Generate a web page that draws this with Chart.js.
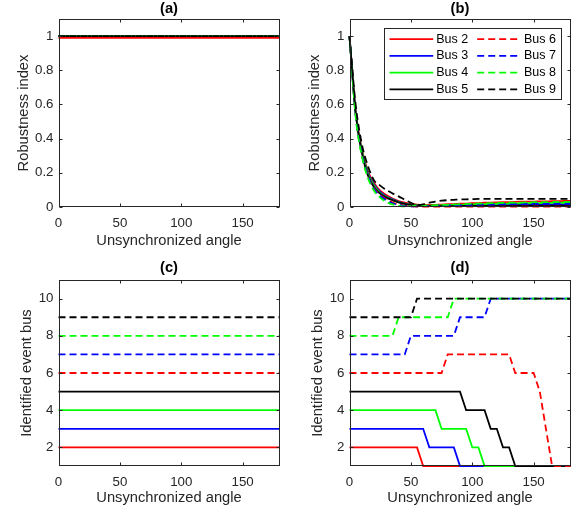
<!DOCTYPE html>
<html>
<head>
<meta charset="utf-8">
<script src="https://cdn.jsdelivr.net/npm/chart.js@4.4.1/dist/chart.umd.min.js"></script>
<style>
  body { margin: 0; background: #fff; }
  #wrap { position: relative; width: 582px; height: 512px; }
  canvas { position: absolute; }
</style>
</head>
<body>
<div id="wrap">
  <canvas id="chartA" width="291" height="256" style="left:0;top:0"></canvas>
  <canvas id="chartB" width="291" height="256" style="left:291px;top:0"></canvas>
  <canvas id="chartC" width="291" height="256" style="left:0;top:256px"></canvas>
  <canvas id="chartD" width="291" height="256" style="left:291px;top:256px"></canvas>
</div>
<script>
const fontFamily = "'Liberation Sans', Arial, Helvetica, sans-serif";
const axisColor = '#262626';

const busNames = ['Bus 2', 'Bus 3', 'Bus 4', 'Bus 5', 'Bus 6', 'Bus 7', 'Bus 8', 'Bus 9'];
const busColors = ['#ff0000', '#0000ff', '#00ff00', '#000000', '#ff0000', '#0000ff', '#00ff00', '#000000'];
const busDashed = [false, false, false, false, true, true, true, true];

const angles = [0, 5, 10, 15, 20, 25, 30, 35, 40, 45, 50, 55, 60, 65, 70, 75, 80, 85, 90, 95,
  100, 105, 110, 115, 120, 125, 130, 135, 140, 145, 150, 155, 160, 165, 170, 175, 180];
const angleRange = [0, 180];

const xTicks = [0, 50, 100, 150];
const robustTicks = [0, 0.2, 0.4, 0.6, 0.8, 1];
const busTicks = [2, 4, 6, 8, 10];

// (a) robustness index, flat over the whole angle range
const robustA = [0.99, 1, 1, 1, 1, 1, 1, 1];

// (b) robustness index vs unsynchronized angle
const robustB2 = [1, 0.56, 0.34, 0.21, 0.14, 0.095, 0.07, 0.05, 0.035, 0.025,
  0.018, 0.014, 0.012, 0.012, 0.013, 0.014, 0.016, 0.017, 0.019, 0.02,
  0.022, 0.023, 0.025, 0.026, 0.027, 0.028, 0.029, 0.03, 0.031, 0.032,
  0.032, 0.033, 0.033, 0.034, 0.034, 0.035, 0.035];
const robustB3 = [1, 0.55, 0.33, 0.2, 0.13, 0.088, 0.062, 0.045, 0.03, 0.02,
  0.013, 0.008, 0.006, 0.006, 0.006, 0.007, 0.007, 0.008, 0.008, 0.009,
  0.009, 0.01, 0.01, 0.011, 0.011, 0.012, 0.012, 0.013, 0.013, 0.013,
  0.014, 0.014, 0.014, 0.015, 0.015, 0.015, 0.015];
const robustB4 = [1, 0.55, 0.33, 0.195, 0.125, 0.083, 0.058, 0.042, 0.028, 0.018,
  0.012, 0.009, 0.008, 0.008, 0.009, 0.01, 0.011, 0.012, 0.013, 0.014,
  0.015, 0.016, 0.017, 0.018, 0.019, 0.02, 0.02, 0.021, 0.022, 0.022,
  0.023, 0.023, 0.024, 0.024, 0.025, 0.025, 0.025];
const robustB5 = [1, 0.55, 0.32, 0.185, 0.115, 0.078, 0.055, 0.04, 0.027, 0.018,
  0.012, 0.008, 0.006, 0.005, 0.005, 0.005, 0.005, 0.005, 0.006, 0.006,
  0.006, 0.006, 0.007, 0.007, 0.007, 0.007, 0.007, 0.008, 0.008, 0.008,
  0.008, 0.008, 0.008, 0.008, 0.008, 0.008, 0.008];
const robustB6 = [1, 0.54, 0.31, 0.18, 0.11, 0.07, 0.045, 0.028, 0.015, 0.008,
  0.004, 0.003, 0.002, 0.002, 0.002, 0.002, 0.002, 0.002, 0.002, 0.002,
  0.002, 0.002, 0.002, 0.002, 0.002, 0.002, 0.002, 0.002, 0.002, 0.002,
  0.002, 0.002, 0.002, 0.002, 0.002, 0.002, 0.002];
const robustB7 = [1, 0.54, 0.31, 0.18, 0.105, 0.065, 0.04, 0.022, 0.012, 0.006,
  0.004, 0.004, 0.005, 0.006, 0.007, 0.008, 0.009, 0.01, 0.011, 0.012,
  0.012, 0.013, 0.014, 0.014, 0.015, 0.016, 0.016, 0.017, 0.017, 0.018,
  0.018, 0.019, 0.019, 0.019, 0.02, 0.02, 0.02];
const robustB8 = [1, 0.53, 0.3, 0.17, 0.095, 0.055, 0.03, 0.015, 0.007, 0.004,
  0.005, 0.006, 0.007, 0.009, 0.01, 0.012, 0.013, 0.015, 0.016, 0.017,
  0.019, 0.02, 0.021, 0.022, 0.023, 0.024, 0.025, 0.026, 0.026, 0.027,
  0.028, 0.028, 0.029, 0.029, 0.03, 0.03, 0.03];
const robustB9 = [1, 0.6, 0.37, 0.24, 0.155, 0.125, 0.1, 0.08, 0.062, 0.043,
  0.025, 0.012, 0.016, 0.025, 0.032, 0.037, 0.04, 0.042, 0.044, 0.045,
  0.046, 0.047, 0.047, 0.048, 0.048, 0.048, 0.048, 0.048, 0.048, 0.048,
  0.048, 0.048, 0.048, 0.048, 0.048, 0.048, 0.048];

// (c) identified event bus, flat
const eventBusC = [2, 3, 4, 5, 6, 7, 8, 9];

// (d) identified event bus vs unsynchronized angle
const eventD2 = [2, 2, 2, 2, 2, 2, 2, 2, 2, 2, 2, 2, 1, 1, 1, 1, 1, 1, 1, 1,
  1, 1, 1, 1, 1, 1, 1, 1, 1, 1, 1, 1, 1, 1, 1, 1, 1];
const eventD3 = [3, 3, 3, 3, 3, 3, 3, 3, 3, 3, 3, 3, 3, 2, 2, 2, 2, 2, 1, 1,
  1, 1, 1, 1, 1, 1, 1, 1, 1, 1, 1, 1, 1, 1, 1, 1, 1];
const eventD4 = [4, 4, 4, 4, 4, 4, 4, 4, 4, 4, 4, 4, 4, 4, 4, 3, 3, 3, 3, 3,
  2, 2, 1, 1, 1, 1, 1, 1, 1, 1, 1, 1, 1, 1, 1, 1, 1];
const eventD5 = [5, 5, 5, 5, 5, 5, 5, 5, 5, 5, 5, 5, 5, 5, 5, 5, 5, 5, 5, 4,
  4, 4, 4, 3, 3, 2, 2, 1, 1, 1, 1, 1, 1, 1, 1, 1, 1];
const eventD6 = [6, 6, 6, 6, 6, 6, 6, 6, 6, 6, 6, 6, 6, 6, 6, 6, 7, 7, 7, 7,
  7, 7, 7, 7, 7, 7, 7, 6, 6, 6, 6, 5, 3, 1, 1, 1, 1];
const eventD7 = [7, 7, 7, 7, 7, 7, 7, 7, 7, 7, 8, 8, 8, 8, 8, 8, 8, 8, 9, 9,
  9, 9, 9, 10, 10, 10, 10, 10, 10, 10, 10, 10, 10, 10, 10, 10, 10];
const eventD8 = [8, 8, 8, 8, 8, 8, 8, 8, 9, 9, 9, 9, 9, 9, 9, 9, 9, 10, 10, 10,
  10, 10, 10, 10, 10, 10, 10, 10, 10, 10, 10, 10, 10, 10, 10, 10, 10];
const eventD9 = [9, 9, 9, 9, 9, 9, 9, 9, 9, 9, 9, 10, 10, 10, 10, 10, 10, 10, 10, 10,
  10, 10, 10, 10, 10, 10, 10, 10, 10, 10, 10, 10, 10, 10, 10, 10, 10];

// box around the axes with inward ticks on all four sides (matlab look)
const boxTicks = {
  id: 'boxTicks',
  afterDatasetsDraw(chart) {
    const {ctx, chartArea: a, scales: {x, y}} = chart;
    const L = Math.round(a.left) + 0.5, R = Math.round(a.right) - 0.5;
    const T = Math.round(a.top) + 0.5, B = Math.round(a.bottom) - 0.5;
    ctx.save();
    ctx.strokeStyle = axisColor;
    ctx.lineWidth = 1;
    ctx.beginPath();
    x.ticks.forEach(t => {
      const px = Math.round(x.getPixelForValue(t.value)) + 0.5;
      ctx.moveTo(px, B); ctx.lineTo(px, B - 3);
      ctx.moveTo(px, T); ctx.lineTo(px, T + 3);
    });
    y.ticks.forEach(t => {
      const py = Math.round(y.getPixelForValue(t.value)) + 0.5;
      ctx.moveTo(L, py); ctx.lineTo(L + 3, py);
      ctx.moveTo(R, py); ctx.lineTo(R - 3, py);
    });
    ctx.stroke();
    ctx.strokeRect(L, T, R - L, B - T);
    ctx.restore();
  }
};

// two-column legend inside the top right corner of (b)
const busLegend = {
  id: 'busLegend',
  afterDraw(chart) {
    const {ctx, chartArea: a} = chart;
    const w = 177, h = 71;
    const bx = Math.round(a.right - 9.5 - w) + 0.5;
    const by = Math.round(a.top + 9) + 0.5;
    ctx.save();
    ctx.fillStyle = '#fff';
    ctx.fillRect(bx, by, w, h);
    ctx.strokeStyle = axisColor;
    ctx.lineWidth = 1;
    ctx.strokeRect(bx, by, w, h);
    ctx.font = '12.5px ' + fontFamily;
    ctx.textBaseline = 'middle';
    chart.data.datasets.forEach((ds, i) => {
      const col = Math.floor(i / 4), row = i % 4;
      const cx = bx + (col ? 92.7 : 5);
      const cy = by + 10.7 + row * 16.7;
      ctx.strokeStyle = ds.borderColor;
      ctx.lineWidth = ds.borderWidth;
      ctx.setLineDash(ds.borderDash);
      ctx.beginPath();
      ctx.moveTo(cx, cy);
      ctx.lineTo(cx + 43.7, cy);
      ctx.stroke();
      ctx.setLineDash([]);
      ctx.fillStyle = '#000';
      ctx.fillText(ds.label, cx + 46.7, cy);
    });
    ctx.restore();
  }
};

function makeChart(id, o) {
  return new Chart(document.getElementById(id), {
    type: 'line',
    data: {
      datasets: o.series.map((vals, i) => ({
        label: busNames[i],
        data: o.xs.map((xv, k) => ({x: xv, y: vals[k]})),
        borderColor: busColors[i],
        borderWidth: 1.8,
        borderDash: busDashed[i] ? [7, 4] : [],
        pointRadius: 0,
        tension: o.smooth ? 0.4 : 0,
        cubicInterpolationMode: o.smooth ? 'monotone' : 'default',
        fill: false,
        clip: 2,
        order: 8 - i
      }))
    },
    options: {
      responsive: false,
      animation: false,
      devicePixelRatio: 1,
      layout: {padding: {left: 0, right: 11.5, top: o.padTop, bottom: 0}},
      plugins: {
        legend: {display: false},
        tooltip: {enabled: false},
        title: {
          display: true,
          text: o.title,
          fullSize: false,
          color: '#000',
          font: {family: fontFamily, size: 14.7, weight: 'bold'},
          padding: {top: 0, bottom: o.titleGap}
        }
      },
      scales: {
        x: {
          type: 'linear',
          min: 0,
          max: 180,
          grid: {display: false, drawTicks: false},
          border: {display: false},
          afterBuildTicks: s => { s.ticks = xTicks.map(v => ({value: v})); },
          afterFit: s => { s.height = o.xHeight; },
          ticks: {color: axisColor, font: {family: fontFamily, size: 13.3}, padding: 8, maxRotation: 0,
            callback: v => String(v)},
          title: {
            display: true,
            text: 'Unsynchronized angle',
            color: axisColor,
            font: {family: fontFamily, size: 14.7},
            padding: {top: 0, bottom: o.xTitlePad}
          }
        },
        y: {
          min: o.yMin,
          max: o.yMax,
          grid: {display: false, drawTicks: false},
          border: {display: false},
          afterBuildTicks: s => { s.ticks = o.yTicks.map(v => ({value: v})); },
          afterFit: s => { s.width = 58.5; },
          ticks: {color: axisColor, font: {family: fontFamily, size: 13.3}, padding: 5,
            callback: v => String(v)},
          title: {
            display: true,
            text: o.yLabel,
            color: axisColor,
            font: {family: fontFamily, size: 14.7},
            padding: {top: o.yTitlePad, bottom: 0}
          }
        }
      }
    },
    plugins: [boxTicks].concat(o.extra || [])
  });
}

const topRow = {padTop: 0.4, titleGap: 1, xHeight: 49, xTitlePad: 6, yTitlePad: 15.5,
  yMin: 0, yMax: 1.1, yTicks: robustTicks, yLabel: 'Robustness index'};
const bottomRow = {padTop: 2.9, titleGap: 3.5, xHeight: 46, xTitlePad: 5.5, yTitlePad: 18,
  yMin: 1, yMax: 11, yTicks: busTicks, yLabel: 'Identified event bus'};

makeChart('chartA', Object.assign({}, topRow, {
  title: '(a)', xs: angleRange, series: robustA.map(v => [v, v])
}));
makeChart('chartB', Object.assign({}, topRow, {
  title: '(b)', xs: angles, smooth: true, extra: [busLegend],
  series: [robustB2, robustB3, robustB4, robustB5, robustB6, robustB7, robustB8, robustB9]
}));
makeChart('chartC', Object.assign({}, bottomRow, {
  title: '(c)', xs: angleRange, series: eventBusC.map(v => [v, v])
}));
makeChart('chartD', Object.assign({}, bottomRow, {
  title: '(d)', xs: angles,
  series: [eventD2, eventD3, eventD4, eventD5, eventD6, eventD7, eventD8, eventD9]
}));
</script>
</body>
</html>
